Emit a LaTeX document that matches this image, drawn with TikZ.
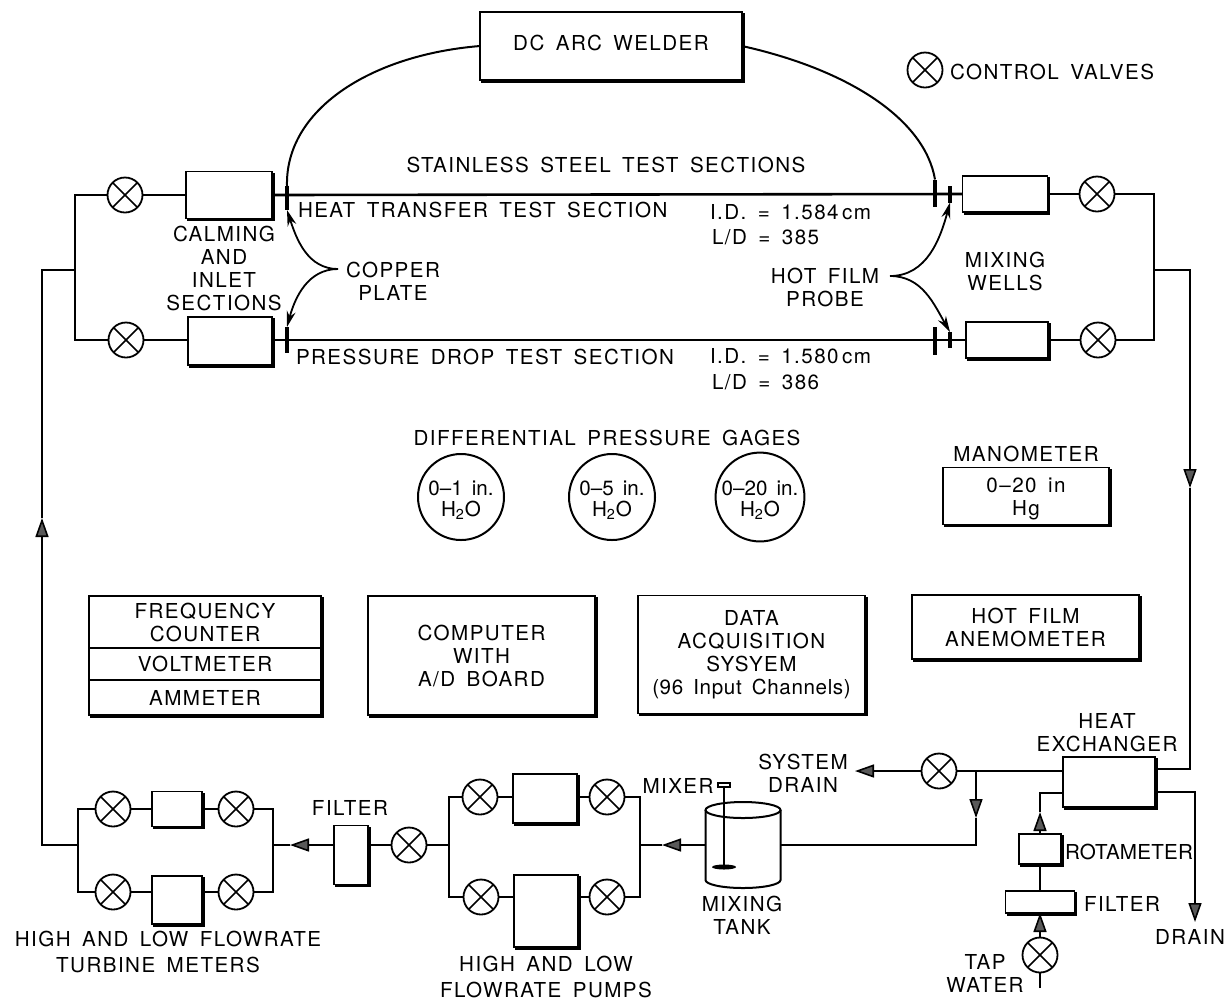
\documentclass[tikz,border=0pt]{standalone}
\usepackage{fontspec}
\setmainfont[LetterSpace=7,WordSpace=1.6]{TeX Gyre Heros}
\usepackage{tikz}
\usetikzlibrary{arrows.meta}
\usetikzlibrary{shapes.geometric}
\usetikzlibrary{shadows}

\begin{document}
\begin{tikzpicture}[
  x=0.5pt, y=-0.5pt,
  every node/.style={font=\fontsize{10.3}{11.5}\selectfont, align=center, inner sep=0pt, outer sep=0pt},
  box/.style={
    rectangle,
    draw,
    fill=white,
    line width=0.85pt,
    copy shadow={shadow xshift=1pt, shadow yshift=-1pt, fill=black, draw=black}
  },
  valve/.style={
    circle,
    draw,
    fill=white,
    line width=0.9pt,
    minimum size=17.5pt,
    path picture={
      \draw[line width=0.85pt] (path picture bounding box.north west) -- (path picture bounding box.south east);
      \draw[line width=0.85pt] (path picture bounding box.north east) -- (path picture bounding box.south west);
    }
  },
  gage/.style={circle, draw, line width=1pt, minimum size=43pt,
    font=\fontsize{10.3}{10.5}\selectfont\addfontfeature{LetterSpace=0}},
  plate/.style={rectangle, fill=black, minimum width=1.6pt},
  pipe/.style={line width=1.3pt},
  flow/.style={-{Triangle[length=9.5pt, width=6.5pt, line width=0.8pt, fill=black!65]}},
  wire/.style={line width=1pt},
  lead/.style={line width=0.9pt, -{Stealth[length=8pt, width=4.5pt]}}
]
\useasboundingbox (0,0) rectangle (1230,1003);

% welder and legend
\node[box, text depth=3pt, minimum width=131pt, minimum height=34pt] (welder) at (611,46) {DC ARC WELDER};
\node[valve] (vLegend) at (925,70) {};
\node[anchor=west] (lblValves) at (950,72) {CONTROL VALVES};
\node (lblSteel) at (606,165) {STAINLESS STEEL TEST SECTIONS};

% test sections
\node[valve] (vHeatIn)   at (125,195) {};
\node[valve] (vPressIn)  at (126,340) {};
\node[box, minimum width=43pt, minimum height=23.5pt] (calmHeat)  at (229,195) {};
\node[box, minimum width=42pt, minimum height=24pt] (calmPress) at (230,341) {};
\node[box, minimum width=42.5pt, minimum height=18pt]   (mixHeat)   at (1005,194) {};
\node[box, minimum width=41pt, minimum height=18pt]   (mixPress)  at (1007,340) {};
\node[valve] (vHeatOut)  at (1097,194) {};
\node[valve] (vPressOut) at (1098,340) {};
\coordinate (busIn)  at (75,270);
\coordinate (busOut) at (1154,270);
\draw[pipe] (vHeatIn.east) -- (calmHeat.west);
\draw[pipe] (vPressIn.east) -- (calmPress.west |- vPressIn);
\draw[pipe] (calmHeat.east) -- (mixHeat.west);
\draw[pipe] (calmPress.east |- mixPress) -- (mixPress.west);
\draw[pipe] (mixHeat.east) -- (vHeatOut.west);
\draw[pipe] (mixPress.east) -- (vPressOut.west);
\draw[pipe] (vHeatIn.west) -| (busIn) |- (vPressIn.west);
\draw[pipe] (vHeatOut.east) -| (busOut) |- (vPressOut.east);
\node[plate, minimum height=12pt]   (cuHeat)    at (287,198) {};
\node[plate, minimum height=13pt]   (cuPress)   at (287,340) {};
\node[plate, minimum height=13.5pt] (cuHeatR)   at (935,193) {};
\node[plate, minimum height=14pt]   (cuPressR)  at (935,341) {};
\node[plate, minimum height=8.5pt]  (probeHeat) at (950,194) {};
\node[plate, minimum height=8pt]    (probePress) at (950,340) {};
\draw[wire] (welder.west) .. controls (370,55) and (285,110) .. (cuHeat.north);
\draw[wire] (welder.east) .. controls (850,70) and (925,120) .. (cuHeatR.north);

% labels round the test sections
\node[anchor=west] (lblHeat)   at (298,210) {HEAT TRANSFER TEST SECTION};
\node[anchor=west] (lblPress)  at (296,357) {PRESSURE DROP TEST SECTION};
\node[anchor=west] (lblIdHeat) at (710,212) {I.D. = 1.584\,cm};
\node[anchor=west] (lblLdHeat) at (712,237) {L/D = 385};
\node[anchor=west] (lblIdPress) at (710,356) {I.D. = 1.580\,cm};
\node[anchor=west] (lblLdPress) at (712,382) {L/D = 386};
\node (lblCalming) at (224,268) {CALMING\\AND\\INLET\\SECTIONS};
\node (lblCopper)  at (393,281) {COPPER\\PLATE};
\node (lblProbe)   at (825,287) {HOT FILM\\PROBE};
\node (lblWells)   at (1005,271) {MIXING\\WELLS};
\coordinate (cuFork)  at (338,269);
\coordinate (hotFork) at (890,276);
\draw[lead] (cuFork) to[out=180, in=-72] (cuHeat.south);
\draw[lead] (cuFork) to[out=180, in=75] (cuPress.north);
\draw[lead] (hotFork) to[out=0, in=-105] (probeHeat.south);
\draw[lead] (hotFork) to[out=0, in=120] (probePress.north);

% gages
\node (lblGages) at (607,438) {DIFFERENTIAL PRESSURE GAGES};
\node[gage] (gageA) at (461,497) {\rule{0pt}{10.5pt}0--1 in.\\H\textsubscript{2}O};
\node[gage] (gageB) at (612,497) {\rule{0pt}{10.5pt}0--5 in.\\H\textsubscript{2}O};
\node[gage] (gageC) at (760,497) {\rule{0pt}{10.5pt}0--20 in.\\H\textsubscript{2}O};
\node (lblMano) at (1026,454) {MANOMETER};
\node[box, minimum width=83pt, minimum height=28.5pt] (mano) at (1026,496) {\rule{0pt}{10pt}0--20 in\\Hg};

% instruments
\node[box, minimum width=116pt, minimum height=26pt]   (freq) at (205,622) {FREQUENCY\\COUNTER};
\node[box, minimum width=116pt, minimum height=16pt]   (volt) at (205,664) {VOLTMETER};
\node[box, minimum width=116pt, minimum height=17.5pt] (amm)  at (205,697.5) {AMMETER};
\node[box, minimum width=113.5pt, minimum height=59.5pt] (computer) at (481.5,655.5) {COMPUTER\\WITH\\A/D BOARD};
\node[box, minimum width=113.5pt, minimum height=59pt] (daq) at (751.5,654.5) {DATA\\ACQUISITION\\SYSYEM\\{\addfontfeature{LetterSpace=3}(96 Input Channels)}};
\node[box, minimum width=113.5pt, minimum height=32pt] (anemo) at (1025.5,627) {HOT FILM\\ANEMOMETER};

% return line
\coordinate (busTurb) at (78,845);
\coordinate (retUp)   at (42,518);
\coordinate (retDown) at (1190,488);
\draw[pipe, flow] (busTurb) -| (retUp);
\draw[pipe] (retUp) |- (busIn);

% turbine meters
\node[valve] (vTurbHiA) at (113,809) {};
\node[valve] (vTurbHiB) at (236,809) {};
\node[valve] (vTurbLoA) at (113,892) {};
\node[valve] (vTurbLoB) at (236,892) {};
\node[box, minimum width=25pt, minimum height=17.5pt] (turbHi) at (177,809) {};
\node[box, minimum width=25pt, minimum height=24pt]   (turbLo) at (177,900) {};
\coordinate (busTurbR) at (273,845);
\draw[pipe] (vTurbHiA.east) -- (turbHi.west);
\draw[pipe] (turbHi.east) -- (vTurbHiB.west);
\draw[pipe] (vTurbLoA.east) -- (turbLo.west |- vTurbLoA);
\draw[pipe] (turbLo.east |- vTurbLoB) -- (vTurbLoB.west);
\draw[pipe] (vTurbHiA.west) -| (busTurb) |- (vTurbLoA.west);
\draw[pipe] (vTurbHiB.east) -| (busTurbR) |- (vTurbLoB.east);
\node (lblFilterL) at (350,808) {FILTER};
\node[box, minimum width=17pt, minimum height=29.5pt] (filterL) at (351,855) {};
\node[valve] (vCenter) at (409,845) {};
\coordinate (turbIn) at (290,845);
\draw[pipe, flow] (filterL.west |- turbIn) -- (turbIn);
\draw[pipe] (turbIn) -- (busTurbR);
\draw[pipe] (vCenter.west) -- (filterL.east |- vCenter);
\node (lblTurb) at (168,952) {HIGH AND LOW FLOWRATE\\[1.2pt]\hspace*{-10pt}TURBINE METERS};

% pumps
\node[valve] (vPumpHiA) at (480,797) {};
\node[valve] (vPumpHiB) at (607,797) {};
\node[valve] (vPumpLoA) at (481,897) {};
\node[valve] (vPumpLoB) at (607,897) {};
\node[box, minimum width=32pt, minimum height=24.5pt] (pumpHi) at (545,798.5) {};
\node[box, minimum width=32pt, minimum height=36pt]   (pumpLo) at (546,911) {};
\coordinate (busPumpL) at (449,845);
\coordinate (busPumpR) at (640,845);
\draw[pipe] (vPumpHiA.east) -- (pumpHi.west |- vPumpHiA);
\draw[pipe] (pumpHi.east |- vPumpHiB) -- (vPumpHiB.west);
\draw[pipe] (vPumpLoA.east) -- (pumpLo.west |- vPumpLoA);
\draw[pipe] (pumpLo.east |- vPumpLoB) -- (vPumpLoB.west);
\draw[pipe] (vPumpHiA.west) -| (busPumpL) |- (vPumpLoA.west);
\draw[pipe] (vPumpHiB.east) -| (busPumpR) |- (vPumpLoB.east);
\draw[pipe] (busPumpL) -- (vCenter.east);
\node (lblPumps) at (546,977) {HIGH AND LOW\\[1.2pt]FLOWRATE PUMPS};

% mixing tank
\node[minimum width=37.5pt, minimum height=35pt] (tank) at (743,845) {};
\draw[line width=1pt] (tank.north) ellipse[x radius=18.75pt, y radius=4pt];
\draw[line width=1pt] (tank.north west) -- (tank.south west)
  arc[start angle=180, end angle=360, x radius=18.75pt, y radius=4pt] -- (tank.north east);
\node[rectangle, draw, line width=0.7pt, minimum width=6pt, minimum height=2pt] (mixHead) at (724,785) {};
\node[ellipse, fill=black, minimum width=12pt, minimum height=2.5pt] (paddle) at (724,867) {};
\draw[line width=0.6pt] (mixHead) -- (paddle);
\node (lblMixer) at (678,786) {MIXER};
\node (lblTank) at (742,915) {MIXING\\TANK};
\coordinate (pumpIn) at (662,845);
\draw[pipe, flow] (tank.west) -- (pumpIn);
\draw[pipe] (pumpIn) -- (busPumpR);

% heat exchanger and drains
\node[box, minimum width=46pt, minimum height=25pt] (hx) at (1109,782) {};
\node (lblHx) at (1107,733) {HEAT\\EXCHANGER};
\node[valve] (vDrain) at (939,771) {};
\node (lblSysDrain) at (803,773) {SYSTEM\\DRAIN};
\coordinate (sysOut)  at (855,771);
\coordinate (tee)     at (976,771);
\coordinate (teeDown) at (976,818);
\draw[pipe] ([yshift=5.5pt]hx.west) -- (vDrain.east);
\draw[pipe, flow] (vDrain.west) -- (sysOut);
\draw[pipe, flow] (tee) -- (teeDown);
\draw[pipe] (teeDown) |- (tank.east);
\draw[pipe] ([yshift=6.5pt]hx.east) -| (retDown);
\draw[pipe, flow] (busOut) -| (retDown);
\coordinate (drainOut) at (1195,922);
\draw[pipe, flow] ([yshift=-5pt]hx.east) -| (drainOut);
\node (lblDrain) at (1190,937) {DRAIN};

% cooling water
\node[valve] (vTap) at (1040,955) {};
\node[box, minimum width=34.5pt, minimum height=11pt] (filterW) at (1040,902) {};
\node[box, minimum width=21pt, minimum height=15pt] (rota) at (1040,849) {};
\node[anchor=west] (lblRota) at (1065,852) {\addfontfeature{LetterSpace=1}ROTAMETER};
\node[anchor=west] (lblFilterW) at (1084,904) {FILTER};
\node (lblTap) at (985,973) {TAP\\WATER};
\coordinate (tapIn) at (1040,988);
\coordinate (rotaUp) at (1040,812);
\draw[pipe] (tapIn) -- (vTap.south);
\draw[pipe, flow] (vTap.north) -- (filterW.south);
\draw[pipe] (filterW.north) -- (rota.south);
\draw[pipe, flow] (rota.north) -- (rotaUp);
\draw[pipe] (rotaUp) |- ([yshift=-5.5pt]hx.west);
\end{tikzpicture}
\end{document}
